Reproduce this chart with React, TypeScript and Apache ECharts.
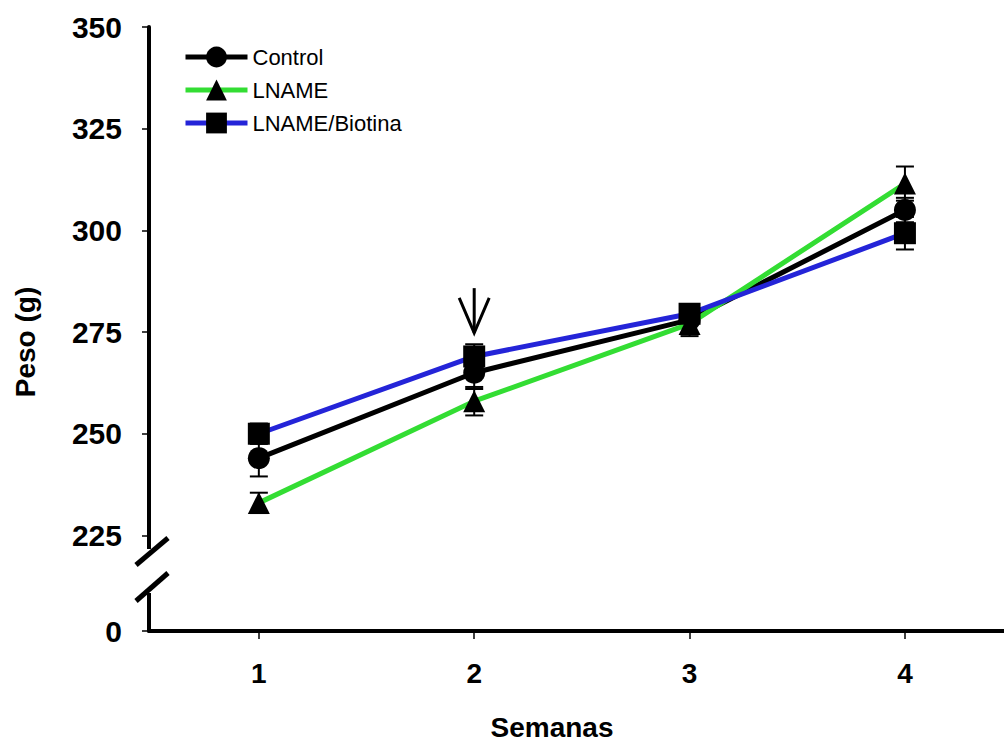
import React, { useEffect, useRef } from 'react';
import * as echarts from 'echarts';

const weeks = [1, 2, 3, 4];
const controlValues = [244, 265, 278, 305];
const controlErrors = [4.5, 4, 3.5, 3];
const lnameValues = [233, 258, 277, 311.5];
const lnameErrors = [2.5, 3.5, 3, 4.2];
const biotinaValues = [250, 269, 279.5, 299.3];
const biotinaErrors = [2.5, 3, 2, 4];
const yTickValues = [225, 250, 275, 300, 325, 350];
const breakZero = 201.5; // axis position that shows the label "0"
const arrowWeek = 2;
const arrowTop = 285.8;
const arrowTip = 274.8;

const FONT = "'Liberation Sans', Arial, sans-serif";

const groups = [
  { name: 'Control', values: controlValues, errors: controlErrors, color: '#000000', symbol: 'circle' },
  { name: 'LNAME', values: lnameValues, errors: lnameErrors, color: '#33dd33', symbol: 'triangle' },
  { name: 'LNAME/Biotina', values: biotinaValues, errors: biotinaErrors, color: '#2424d8', symbol: 'rect' },
];

export default function App() {
  const ref = useRef<HTMLDivElement>(null);
  useEffect(() => {
    if (!ref.current) return;
    const chart = echarts.init(ref.current, undefined, { renderer: 'svg' });

    const lineSeries = groups.map((g, i) => ({
      name: g.name,
      type: 'line',
      data: weeks.map((w, k) => [w, g.values[k]]),
      symbol: g.symbol,
      symbolSize: 22,
      itemStyle: { color: '#000000' },
      lineStyle: { color: g.color, width: 5 },
      z: 3 + i,
    }));

    const errSeries = groups.map((g) => ({
      name: g.name + ' err',
      type: 'custom',
      z: 2,
      data: weeks.map((w, k) => [w, g.values[k] - g.errors[k], g.values[k] + g.errors[k]]),
      renderItem: (params: any, api: any) => {
        const x = api.value(0);
        const lo = api.coord([x, api.value(1)]);
        const hi = api.coord([x, api.value(2)]);
        const w = 9;
        const st = { stroke: '#000', lineWidth: 2 };
        return {
          type: 'group',
          children: [
            { type: 'line', shape: { x1: lo[0], y1: lo[1], x2: hi[0], y2: hi[1] }, style: st },
            { type: 'line', shape: { x1: lo[0] - w, y1: lo[1], x2: lo[0] + w, y2: lo[1] }, style: st },
            { type: 'line', shape: { x1: hi[0] - w, y1: hi[1], x2: hi[0] + w, y2: hi[1] }, style: st },
          ],
        };
      },
    }));

    const option: any = {
      animation: false,
      backgroundColor: '#ffffff',
      grid: { left: 149, right: 0, top: 27, bottom: 113 },
      legend: {
        data: groups.map((g) => g.name),
        orient: 'vertical',
        left: 183,
        top: 46,
        padding: 0,
        itemWidth: 62,
        itemHeight: 26,
        itemGap: 11,
        lineStyle: { width: 5 },
        textStyle: { fontFamily: FONT, fontSize: 22, color: '#000' },
      },
      xAxis: {
        type: 'value',
        min: 0.49,
        max: 4.46,
        axisLine: { show: true, onZero: false, lineStyle: { color: '#000', width: 4 } },
        axisTick: { show: true, customValues: weeks, length: 8, lineStyle: { color: '#000', width: 1.5 } },
        axisLabel: {
          customValues: weeks,
          margin: 28,
          fontFamily: FONT,
          fontSize: 28,
          fontWeight: 'bold',
          color: '#000',
        },
        splitLine: { show: false },
      },
      yAxis: {
        type: 'value',
        min: breakZero,
        max: 350,
        axisLine: { show: true, lineStyle: { color: '#000', width: 4 } },
        axisTick: { show: true, customValues: [breakZero, ...yTickValues], length: 7, lineStyle: { color: '#000', width: 1.5 } },
        axisLabel: {
          customValues: [breakZero, ...yTickValues],
          margin: 27,
          fontFamily: FONT,
          fontSize: 30,
          fontWeight: 'bold',
          color: '#000',
          formatter: (v: number) => (v < 220 ? '0' : String(v)),
        },
        splitLine: { show: false },
      },
      series: [...errSeries, ...lineSeries],
    };
    chart.setOption(option);

    const top = chart.convertToPixel({ xAxisIndex: 0, yAxisIndex: 0 }, [arrowWeek, arrowTop]) as number[];
    const tip = chart.convertToPixel({ xAxisIndex: 0, yAxisIndex: 0 }, [arrowWeek, arrowTip]) as number[];
    const yAxisX = (chart.convertToPixel({ xAxisIndex: 0, yAxisIndex: 0 }, [0.49, 225]) as number[])[0];

    chart.setOption({
      graphic: [
        { type: 'rect', z: 100, shape: { x: yAxisX - 5, y: 549, width: 10, height: 44 }, style: { fill: '#fff' } },
        { type: 'line', z: 101, shape: { x1: yAxisX - 13, y1: 565, x2: yAxisX + 19, y2: 538 }, style: { stroke: '#000', lineWidth: 5 } },
        { type: 'line', z: 101, shape: { x1: yAxisX - 13, y1: 601, x2: yAxisX + 19, y2: 573 }, style: { stroke: '#000', lineWidth: 5 } },
        { type: 'line', z: 100, shape: { x1: top[0], y1: top[1], x2: tip[0], y2: tip[1] }, style: { stroke: '#000', lineWidth: 3 } },
        {
          type: 'polyline', z: 100,
          shape: { points: [[tip[0] - 15, tip[1] - 35], [tip[0], tip[1]], [tip[0] + 15, tip[1] - 35]] },
          style: { stroke: '#000', lineWidth: 3, fill: 'none' },
        },
        {
          type: 'text', z: 100, x: 552, y: 727,
          style: { text: 'Semanas', fontFamily: FONT, fontSize: 28, fontWeight: 'bold', fill: '#000', textAlign: 'center', textVerticalAlign: 'middle' },
        },
        {
          type: 'text', z: 100, x: 25, y: 342, rotation: Math.PI / 2,
          style: { text: 'Peso (g)', fontFamily: FONT, fontSize: 28, fontWeight: 'bold', fill: '#000', textAlign: 'center', textVerticalAlign: 'middle' },
        },
      ],
    });

    return () => chart.dispose();
  }, []);
  return <div ref={ref} style={{ position: 'fixed', left: 0, top: 0, width: 1004, height: 744 }} />;
}
